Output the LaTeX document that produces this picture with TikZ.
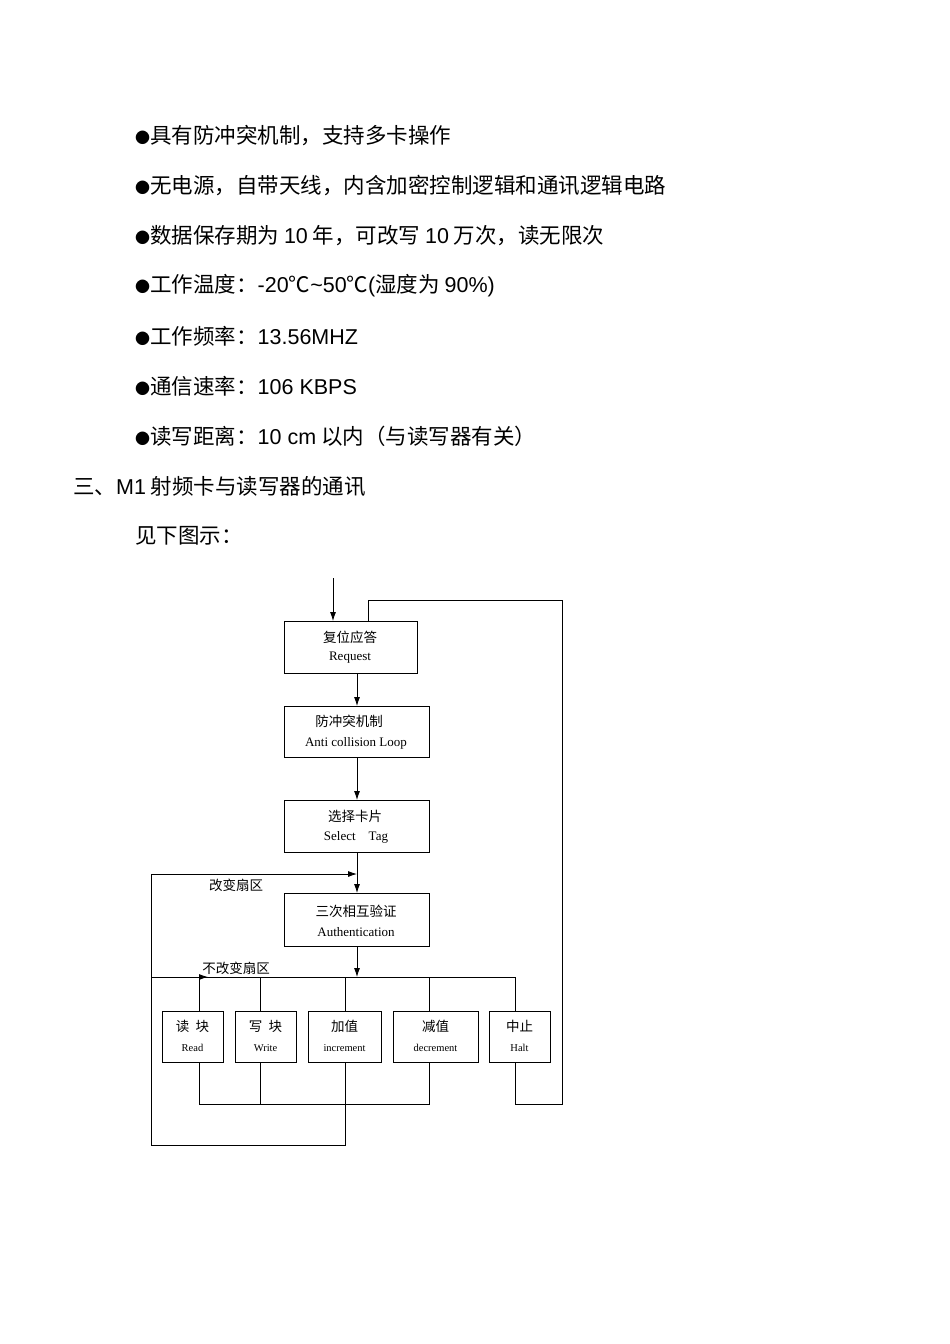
\documentclass[tikz,border=0pt]{standalone}
\usepackage{fontspec}
\usetikzlibrary{arrows.meta}
\setmainfont{Noto Sans CJK SC}
\newfontfamily\lat{Liberation Sans}
\newfontfamily\ser{Liberation Serif}
\newcommand{\bul}{{\fontsize{15}{15}\selectfont ●}}
\begin{document}
\begin{tikzpicture}[x=1pt,y=-1pt,
 every node/.style={inner sep=0pt},
 txt/.style={anchor=west,font=\fontsize{21.5}{24}\selectfont},
 cn/.style={font=\fontsize{13.5}{15}\selectfont},
 en/.style={font=\ser\fontsize{13}{15}\selectfont},
 sm/.style={font=\ser\fontsize{10.5}{12}\selectfont},
 ln/.style={thick},
 ar/.style={thick,-{Latex[length=9pt,width=6pt]}}]
\useasboundingbox (0,0) rectangle (950,1344);
\node[txt] (t1) at (135,136) {\bul 具有防冲突机制，支持多卡操作};
\node[txt] (t2) at (135,186) {\bul 无电源，自带天线，内含加密控制逻辑和通讯逻辑电路};
\node[txt] (t3) at (135,236) {\bul 数据保存期为 {\lat 10} 年，可改写 {\lat 10} 万次，读无限次};
\node[txt] (t4) at (135,286) {\bul 工作温度：{\lat -20}℃{\lat\textasciitilde 50}℃{\lat (}湿度为 {\lat 90\%)}};
\node[txt] (t5) at (135,336) {\bul 工作频率：{\lat 13.56MHZ}};
\node[txt] (t6) at (135,386) {\bul 通信速率：{\lat 106 KBPS}};
\node[txt] (t7) at (135,436) {\bul 读写距离：{\lat 10 cm} 以内（与读写器有关）};
\node[txt] (h) at (73,486) {三、{\lat M1} 射频卡与读写器的通讯};
\node[txt] (s) at (135,536) {见下图示：};
% boxes
\draw[ln] (284,621) rectangle (417,673);
\node[cn] (r1) at (350,637) {复位应答}; \node[en] (r2) at (350,658) {Request};
\draw[ln] (284,706) rectangle (429,757);
\node[cn] (a1) at (349,721) {防冲突机制}; \node[en] (a2) at (356,743) {Anti collision Loop};
\draw[ln] (284,800) rectangle (429,852);
\node[cn] (s1) at (355,816) {选择卡片}; \node[en] (s2) at (356,837) {Select\quad Tag};
\draw[ln] (284,893) rectangle (429,946);
\node[cn] (u1) at (356,911) {三次相互验证}; \node[en] (u2) at (356,932) {Authentication};
\foreach \a/\b/\c/\d/\e in {162/223/读\ \ 块/Read/rd, 235/296/写\ \ 块/Write/wr, 308/381/加值/increment/inc, 393/478/减值/decrement/dec, 489/550/中止/Halt/hl}{
 \draw[ln] (\a,1011) rectangle (\b,1062);
 \node[cn] (\e1) at ({(\a+\b)/2},1026) {\c};
 \node[sm] (\e2) at ({(\a+\b)/2},1048) {\d};
}
% arrows
\draw[ar] (333,578) -- (333,621);
\draw[ar] (357,673) -- (357,706);
\draw[ar] (357,757) -- (357,800);
\draw[ar] (357,852) -- (357,893);
\draw[ar] (357,946) -- (357,977);
\draw[ar] (151,1145) -- (151,874) -- (357,874);
\node[cn] (l1) at (236,885) {改变扇区};
\draw[ln] (151,977) -- (515,977);
\draw[ar] (190,977) -- (208,977);
\node[cn] (l2) at (236,968) {不改变扇区};
\foreach \x in {199,260,345,429,515} \draw[ln] (\x,977) -- (\x,1011);
\draw[ln] (199,1062) -- (199,1104) -- (429,1104) -- (429,1062);
\draw[ln] (260,1062) -- (260,1104);
\draw[ln] (345,1062) -- (345,1145) -- (151,1145);
\draw[ln] (515,1062) -- (515,1104) -- (562,1104) -- (562,600) -- (368,600) -- (368,621);
\end{tikzpicture}
\end{document}
